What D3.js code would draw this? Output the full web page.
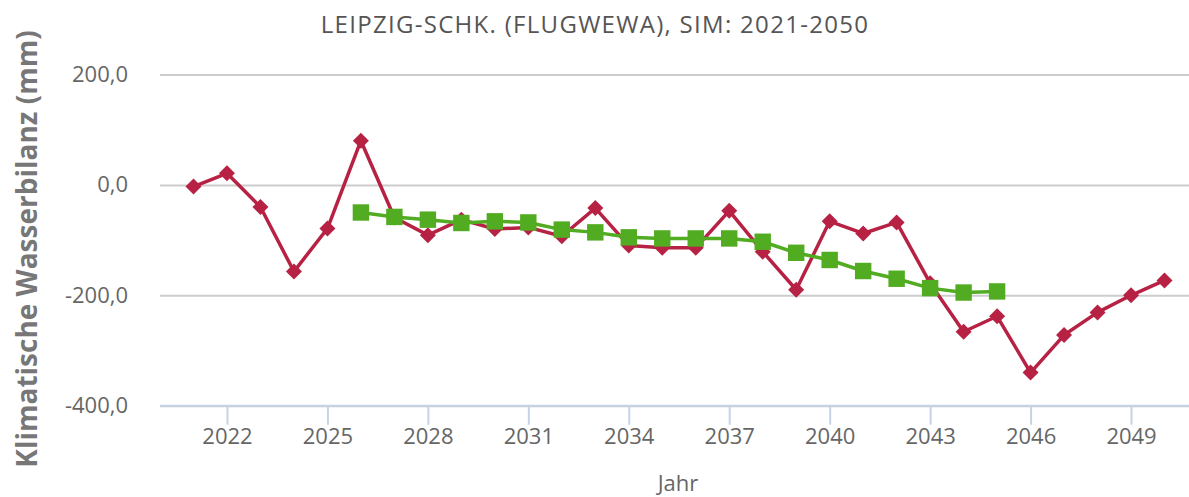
<!DOCTYPE html>
<html>
<head>
<meta charset="utf-8">
<script src="https://cdn.jsdelivr.net/npm/d3@7"></script>
<style>
  html, body { margin: 0; padding: 0; background: #fff; }
  svg { display: block; font-family: "Open Sans", "Noto Sans", sans-serif; }
</style>
</head>
<body>
<svg id="chart" width="1189" height="497"></svg>
<script>
// ---- data ----
const years = [2021,2022,2023,2024,2025,2026,2027,2028,2029,2030,2031,2032,2033,2034,2035,2036,2037,2038,2039,2040,2041,2042,2043,2044,2045,2046,2047,2048,2049,2050];
const annualValues = [-3,21,-40,-157,-79,80,-59,-91,-63,-80,-77,-93,-42,-110,-114,-114,-47,-121,-190,-66,-88,-68,-178,-266,-238,-340,-272,-231,-200,-173];
const meanYears = [2026,2027,2028,2029,2030,2031,2032,2033,2034,2035,2036,2037,2038,2039,2040,2041,2042,2043,2044,2045];
const meanValues = [-50,-58,-63,-69,-66,-68,-81,-86,-95,-97,-97,-97,-103,-123,-136,-156,-170,-187,-195,-193];
const yTicks = [-400,-200,0,200];
const xTicks = [2022,2025,2028,2031,2034,2037,2040,2043,2046,2049];
const titleText = "LEIPZIG-SCHK. (FLUGWEWA), SIM: 2021-2050";
const yTitle = "Klimatische Wasserbilanz (mm)";
const xTitle = "Jahr";

// ---- layout ----
const svg = d3.select("#chart");
const plotLeft = 160, plotRight = 1198, plotTop = 74.5, plotBottom = 405.7;
const x = d3.scaleLinear().domain([2020, 2051]).range([plotLeft, plotRight]);
const y = d3.scaleLinear().domain([-400, 200]).range([plotBottom, plotTop]);
const fmt = v => (v < 0 ? "-" : "") + Math.abs(v).toFixed(1).replace(".", ",");

// grid lines
const yAxis = d3.axisLeft(y).tickValues(yTicks).tickSize(-(plotRight - plotLeft)).tickFormat(fmt).tickPadding(32);
const gy = svg.append("g").attr("transform", `translate(${plotLeft},0)`).call(yAxis);
gy.select(".domain").remove();
gy.selectAll(".tick line").attr("stroke", "#cccccc").attr("stroke-width", 2);
gy.selectAll(".tick text").attr("fill", "#666666").style("font-size", "22px").attr("font-family", "Open Sans");

// x axis
const xAxis = d3.axisBottom(x).tickValues(xTicks).tickSize(19).tickFormat(d3.format("d")).tickPadding(4);
const gx = svg.append("g").attr("transform", `translate(0,${plotBottom})`).call(xAxis);
gx.select(".domain").attr("stroke", "#c5d3e6").attr("stroke-width", 2).attr("d", `M${plotLeft},0H${1189}`);
gx.selectAll(".tick line").attr("stroke", "#c5d3e6").attr("stroke-width", 2);
gx.selectAll(".tick text").attr("fill", "#666666").style("font-size", "22px").attr("font-family", "Open Sans");

// lines
const annual = years.map((yr, i) => [yr, annualValues[i]]);
const mean = meanYears.map((yr, i) => [yr, meanValues[i]]);
const line = d3.line().x(d => x(d[0])).y(d => y(d[1]));
const red = "#b72244", green = "#52ac21";

svg.append("path").datum(annual).attr("d", line).attr("fill", "none").attr("stroke", red).attr("stroke-width", 3.5).attr("stroke-linejoin", "round");
svg.append("g").selectAll("path").data(annual).join("path")
  .attr("d", d3.symbol().type(d3.symbolSquare).size(128))
  .attr("transform", d => `translate(${x(d[0])},${y(d[1])}) rotate(45)`)
  .attr("fill", red);

svg.append("path").datum(mean).attr("d", line).attr("fill", "none").attr("stroke", green).attr("stroke-width", 3.5).attr("stroke-linejoin", "round");
svg.append("g").selectAll("path").data(mean).join("path")
  .attr("d", d3.symbol().type(d3.symbolSquare).size(270))
  .attr("transform", d => `translate(${x(d[0])},${y(d[1])})`)
  .attr("fill", green);

// titles
svg.append("text").attr("x", 595).attr("y", 33).attr("text-anchor", "middle")
  .attr("fill", "#555555").style("font-size", "24px").style("letter-spacing", "1.3px").text(titleText);
svg.append("text").attr("transform", `translate(37,249) rotate(-90)`)
  .attr("text-anchor", "middle").attr("fill", "#777777").style("font-size", "28px").style("font-weight", "bold").text(yTitle);
svg.append("text").attr("x", 678).attr("y", 491).attr("text-anchor", "middle")
  .attr("fill", "#666666").style("font-size", "22px").text(xTitle);
</script>
</body>
</html>
